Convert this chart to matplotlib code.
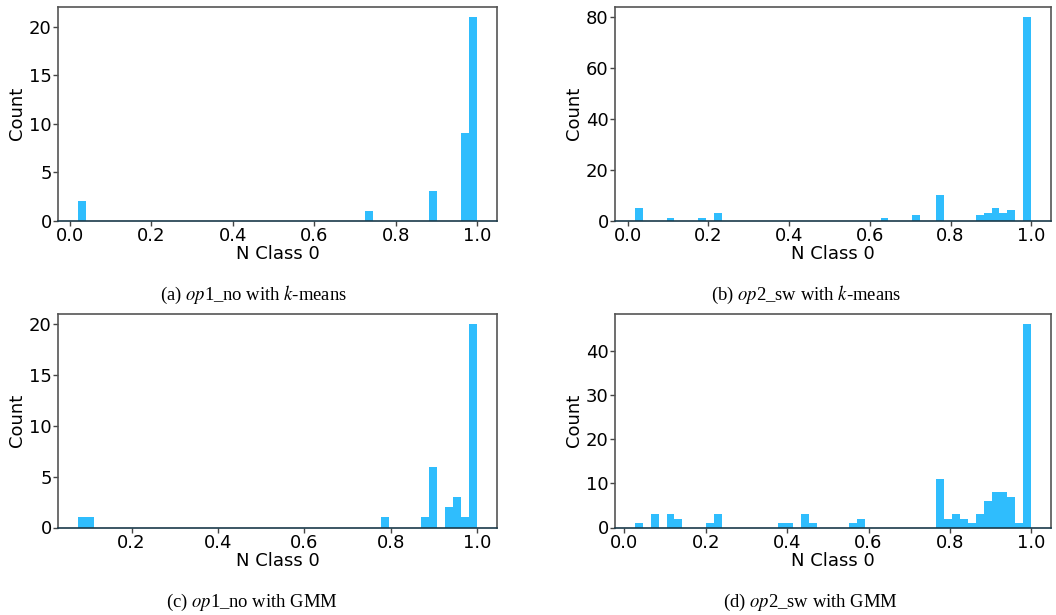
import numpy as np
import matplotlib
matplotlib.use("Agg")
import matplotlib.pyplot as plt

plt.rcParams['mathtext.fontset'] = 'stix'

N_BINS = 50

# Panel (a): op1_no with k-means
a_range = (0.020, 1.0)
a_bins = [0, 36, 44, 48, 49]
a_counts = [2, 1, 3, 9, 21]

# Panel (b): op2_sw with k-means
b_range = (0.0174, 1.0)
b_bins = [0, 4, 8, 10, 31, 35, 38, 43, 44, 45, 46, 47, 49]
b_counts = [5, 1, 1, 3, 1, 2, 10, 2, 3, 5, 3, 4, 80]

# Panel (c): op1_no with GMM
c_range = (0.076, 1.0)
c_bins = [0, 1, 38, 43, 44, 46, 47, 48, 49]
c_counts = [1, 1, 1, 1, 6, 2, 3, 1, 20]

# Panel (d): op2_sw with GMM
d_range = (0.0254, 1.0)
d_bins = [0, 2, 4, 5, 9, 10, 18, 19, 21, 22, 27, 28,
          38, 39, 40, 41, 42, 43, 44, 45, 46, 47, 48, 49]
d_counts = [1, 3, 3, 2, 1, 3, 1, 1, 3, 1, 1, 2,
            11, 2, 3, 2, 1, 3, 6, 8, 8, 7, 1, 46]

captions = [
    r"(a) $op$1_no with $k$-means",
    r"(b) $op$2_sw with $k$-means",
    r"(c) $op$1_no with GMM",
    r"(d) $op$2_sw with GMM",
]

panels = [
    (a_range, a_bins, a_counts),
    (b_range, b_bins, b_counts),
    (c_range, c_bins, c_counts),
    (d_range, d_bins, d_counts),
]

W, H = 1056, 615
fig = plt.figure(figsize=(W / 100, H / 100), dpi=100)

# axes boxes in pixels: left, top, right, bottom
boxes = [
    (58, 7, 497, 220.5),
    (615, 7, 1051, 220.5),
    (58, 314, 497, 527.5),
    (615, 314, 1051, 527.5),
]
cap_pos = [(254, 295), (806, 295), (252, 602), (810, 602)]

bar_color = '#2FBDFD'

for (rng, idx, cnt), (l, t, r, b), cap, (cx, cy) in zip(panels, boxes, captions, cap_pos):
    ax = fig.add_axes([l / W, 1 - b / H, (r - l) / W, (b - t) / H])
    edges = np.linspace(rng[0], rng[1], N_BINS + 1)
    full = np.zeros(N_BINS)
    full[idx] = cnt
    ax.hist(edges[:-1], bins=edges, weights=full, color=bar_color)
    ax.set_xlabel('N Class 0', fontsize=13, labelpad=0)
    ax.set_ylabel('Count', fontsize=13, labelpad=2)
    ax.tick_params(labelsize=13, length=3.5, width=1, color='#444444', pad=1)
    for s in ax.spines.values():
        s.set_color('#555555')
        s.set_linewidth(1.2)
    ax.spines['bottom'].set_color('#1a3a4a')
    fig.text(cx / W, 1 - cy / H, cap, ha='center', va='center',
             fontsize=13.4, family='Liberation Serif')

fig.savefig('out.png', dpi=100)
